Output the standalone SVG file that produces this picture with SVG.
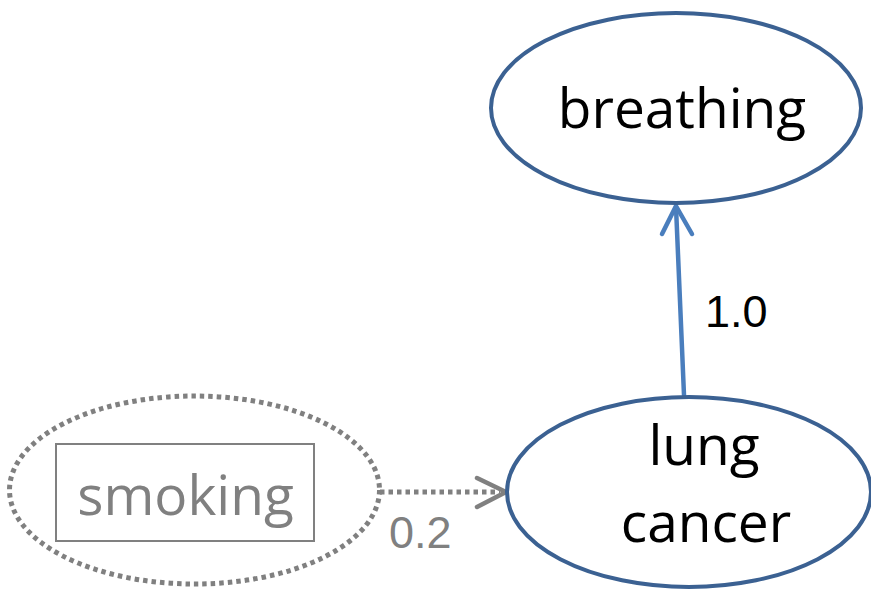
<svg xmlns="http://www.w3.org/2000/svg" width="871" height="589" viewBox="0 0 871 589">
<style>
.node{fill:#fff;stroke:#3b6192;stroke-width:4}
.lbl{font-family:"Open Sans","DejaVu Sans",sans-serif;font-size:55px;fill:#000;text-anchor:middle}
.num{font-family:"Liberation Sans",Arial,sans-serif;font-size:45px}
</style>
<rect width="871" height="589" fill="#fff"/>
<g id="connectors">
  <g id="edge-lung-breathing" fill="none" stroke="#4a7ebd" stroke-width="4.5" stroke-linecap="round" stroke-linejoin="round">
    <line x1="684" y1="395" x2="676" y2="207"/>
    <polyline points="662,234 676,206 692,234"/>
  </g>
  <g id="edge-smoking-lung" fill="none" stroke="#808080" stroke-width="5">
    <line x1="380" y1="492" x2="500" y2="492" stroke-dasharray="4.5 4"/>
    <polyline points="477,478 506,492 477,507" stroke-width="4.5" stroke-linecap="round" stroke-linejoin="round"/>
  </g>
  <text class="num" x="705" y="327" fill="#000">1.0</text>
  <text class="num" x="389" y="548" fill="#808080">0.2</text>
</g>
<g id="breathing">
  <ellipse class="node" cx="676" cy="108" rx="185" ry="95"/>
  <text class="lbl" x="682" y="128">breathing</text>
</g>
<g id="lung-cancer">
  <ellipse class="node" cx="689" cy="492" rx="182" ry="95"/>
  <text class="lbl" x="704" y="465">lung</text>
  <text class="lbl" x="706" y="542">cancer</text>
</g>
<g id="smoking">
  <ellipse cx="194.5" cy="490" rx="185" ry="94" fill="none" stroke="#808080" stroke-width="5" stroke-dasharray="4.5 4"/>
  <rect x="56" y="444" width="258" height="97" fill="none" stroke="#808080" stroke-width="2"/>
  <text class="lbl" x="185.5" y="515" style="fill:#808080">smoking</text>
</g>
</svg>
